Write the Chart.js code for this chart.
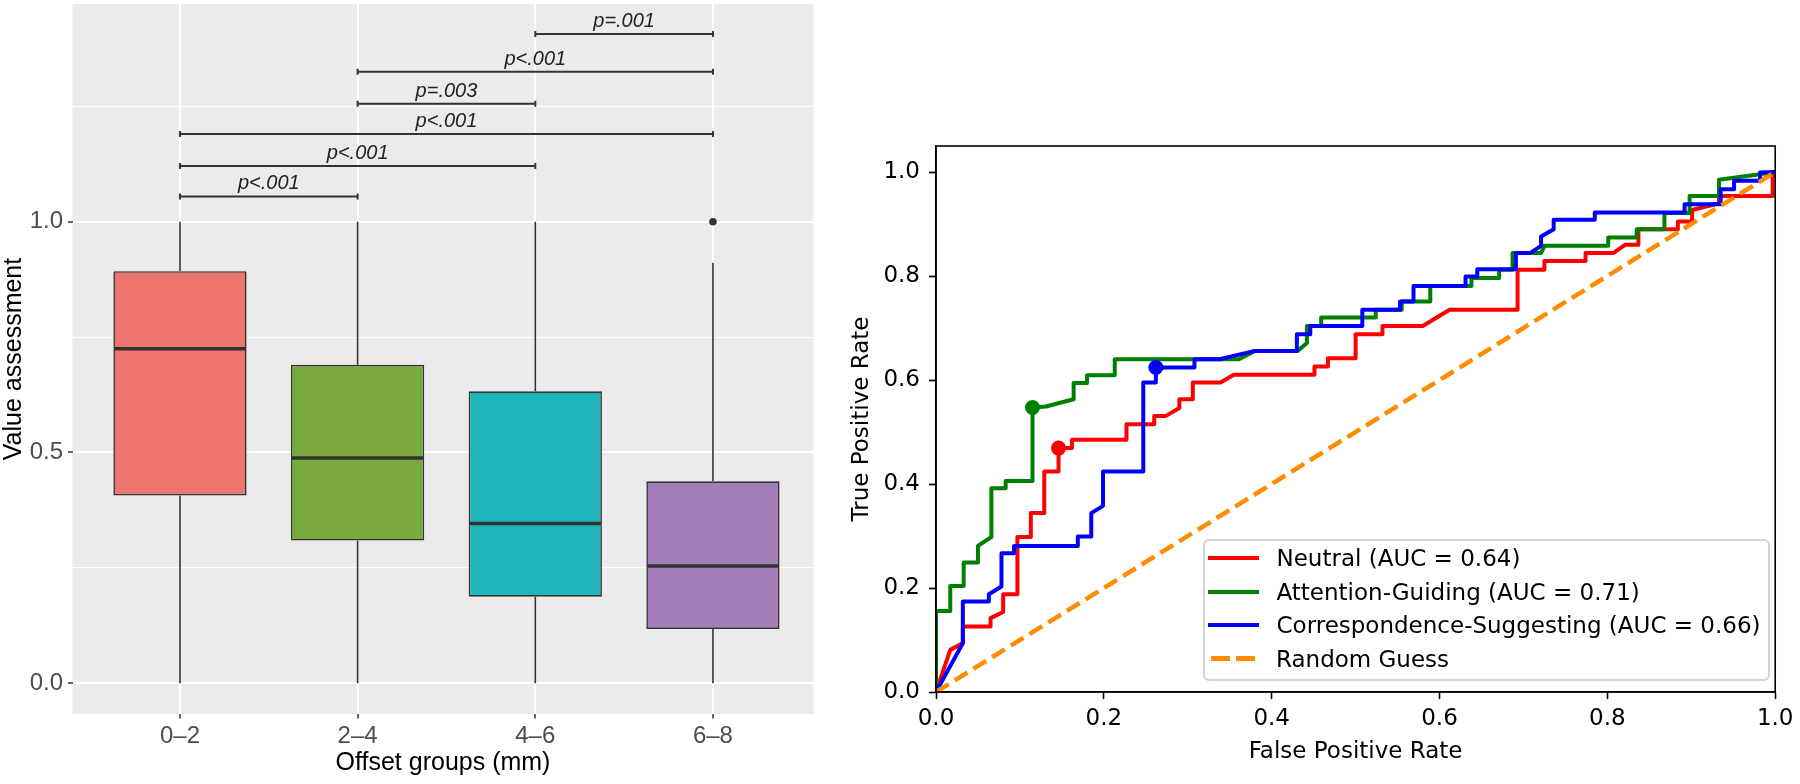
<!DOCTYPE html>
<html>
<head>
<meta charset="utf-8">
<title>Value assessment by offset group / ROC curves</title>
<script src="https://cdn.jsdelivr.net/npm/chart.js@4.4.1/dist/chart.umd.min.js"></script>
<style>
  body { margin: 0; background: #fff; width: 1800px; height: 784px; position: relative; overflow: hidden; }
  #box_wrap { position: absolute; left: 0; top: 0; width: 830px; height: 784px; }
  #roc_wrap { position: absolute; left: 830px; top: 0; width: 970px; height: 784px; }
  #roc_legend {
    position: absolute; left: 1203px; top: 539px; width: 567px; height: 142px;
    box-sizing: border-box; border: 2px solid #d4d4d4; border-radius: 6px;
    background: rgba(255, 255, 255, 0.8);
    font-family: "DejaVu Sans", sans-serif; font-size: 23px; color: #000;
  }
  #roc_legend ul { list-style: none; margin: 0; padding: 0; }
  #roc_legend li { display: flex; align-items: center; height: 33.7px; white-space: nowrap; }
</style>
</head>
<body>
<div id="box_wrap"><canvas id="offset_boxplot" width="830" height="784"></canvas></div>
<div id="roc_wrap"><canvas id="roc_chart" width="970" height="784"></canvas></div>
<div id="roc_legend"></div>
<script>
// ---- left panel: boxplot ----
const groups = ['0–2', '2–4', '4–6', '6–8'];
const boxLow = [0, 0, 0, 0];
const boxQ1 = [0.407, 0.309, 0.1875, 0.1175];
const boxMedian = [0.725, 0.488, 0.346, 0.254];
const boxQ3 = [0.893, 0.690, 0.6325, 0.4375];
const boxHigh = [1.0, 1.0, 1.0, 0.911];
const boxColors = ['#ED756D', '#7AA93F', '#1EB4B9', '#A47EB8'];
const outlierGroups = ['6–8'];
const outlierValues = [1.0];

const bracketFrom = ['0–2', '0–2', '0–2', '2–4', '2–4', '4–6'];
const bracketTo = ['2–4', '4–6', '6–8', '4–6', '6–8', '6–8'];
const bracketY = [1.055, 1.121, 1.190, 1.256, 1.325, 1.407];
const bracketLabels = ['p<.001', 'p<.001', 'p<.001', 'p=.003', 'p<.001', 'p=.001'];

const yGridValues = [0, 0.25, 0.5, 0.75, 1.0, 1.25];
const yTickValues = [0, 0.5, 1.0];
const yTickLabels = ['0.0', '0.5', '1.0'];

// ---- right panel: ROC curves ----
const rocLabels = [
  'Neutral (AUC = 0.64)',
  'Attention-Guiding (AUC = 0.71)',
  'Correspondence-Suggesting (AUC = 0.66)',
  'Random Guess'
];
const neutralRoc = [
  [0, 0], [0.017, 0.081], [0.032, 0.094], [0.032, 0.126], [0.065, 0.126], [0.065, 0.142],
  [0.080, 0.154], [0.080, 0.188], [0.097, 0.188], [0.097, 0.298], [0.113, 0.298], [0.113, 0.344],
  [0.129, 0.344], [0.129, 0.424], [0.146, 0.424], [0.146, 0.469], [0.162, 0.469], [0.162, 0.485],
  [0.227, 0.485], [0.227, 0.515], [0.260, 0.515], [0.260, 0.531], [0.274, 0.531], [0.290, 0.546],
  [0.290, 0.563], [0.306, 0.563], [0.306, 0.595], [0.339, 0.595], [0.355, 0.610], [0.451, 0.610],
  [0.451, 0.626], [0.467, 0.626], [0.467, 0.642], [0.500, 0.642], [0.500, 0.688], [0.532, 0.688],
  [0.532, 0.704], [0.580, 0.704], [0.612, 0.735], [0.693, 0.735], [0.693, 0.812], [0.725, 0.812],
  [0.725, 0.829], [0.774, 0.829], [0.774, 0.844], [0.807, 0.844], [0.821, 0.860], [0.837, 0.860],
  [0.837, 0.890], [0.884, 0.890], [0.884, 0.905], [0.901, 0.905], [0.901, 0.927], [0.933, 0.940],
  [0.933, 0.954], [0.997, 0.954], [0.997, 1.0]
];
const attentionRoc = [
  [0, 0], [0, 0.156], [0.017, 0.156], [0.017, 0.204], [0.033, 0.204], [0.033, 0.249],
  [0.050, 0.249], [0.050, 0.281], [0.066, 0.298], [0.066, 0.392], [0.083, 0.392], [0.083, 0.406],
  [0.115, 0.406], [0.115, 0.547], [0.131, 0.549], [0.164, 0.563], [0.164, 0.594], [0.180, 0.594],
  [0.180, 0.609], [0.213, 0.609], [0.213, 0.640], [0.361, 0.640], [0.380, 0.656], [0.431, 0.656],
  [0.442, 0.671], [0.442, 0.704], [0.459, 0.704], [0.459, 0.720], [0.524, 0.720], [0.524, 0.735],
  [0.555, 0.735], [0.555, 0.751], [0.589, 0.751], [0.589, 0.781], [0.638, 0.781], [0.638, 0.796],
  [0.671, 0.796], [0.671, 0.812], [0.687, 0.812], [0.687, 0.844], [0.721, 0.844], [0.725, 0.858],
  [0.801, 0.858], [0.801, 0.874], [0.835, 0.874], [0.835, 0.890], [0.868, 0.890], [0.868, 0.921],
  [0.898, 0.921], [0.898, 0.954], [0.933, 0.954], [0.933, 0.985], [0.984, 0.996], [1.0, 1.0]
];
const correspondenceRoc = [
  [0, 0], [0.032, 0.094], [0.032, 0.174], [0.063, 0.174], [0.063, 0.188], [0.078, 0.203],
  [0.078, 0.267], [0.093, 0.267], [0.093, 0.281], [0.169, 0.281], [0.169, 0.299], [0.185, 0.299],
  [0.185, 0.344], [0.199, 0.358], [0.199, 0.424], [0.247, 0.424], [0.247, 0.595], [0.262, 0.595],
  [0.262, 0.624], [0.308, 0.624], [0.308, 0.640], [0.338, 0.640], [0.380, 0.656], [0.430, 0.656],
  [0.430, 0.688], [0.446, 0.688], [0.446, 0.704], [0.508, 0.704], [0.508, 0.735], [0.553, 0.735],
  [0.553, 0.751], [0.569, 0.751], [0.569, 0.781], [0.631, 0.781], [0.631, 0.799], [0.645, 0.799],
  [0.645, 0.813], [0.691, 0.813], [0.691, 0.844], [0.708, 0.844], [0.721, 0.858], [0.721, 0.876],
  [0.736, 0.890], [0.736, 0.908], [0.785, 0.908], [0.785, 0.922], [0.892, 0.922], [0.892, 0.938],
  [0.935, 0.938], [0.935, 0.967], [0.951, 0.967], [0.951, 0.983], [0.982, 0.983], [0.982, 0.999],
  [1.0, 1.0]
];
const randomRoc = [[0, 0], [1, 1]];
const rocMarkers = [[0.146, 0.469], [0.115, 0.547], [0.262, 0.624]];
const rocColors = ['#ff0000', '#008000', '#0000ff', '#ff8c00'];
const rocTicks = [0, 0.2, 0.4, 0.6, 0.8, 1.0];

const GG_FONT = '"Liberation Sans", Arial, sans-serif';
const MPL_FONT = '"DejaVu Sans", sans-serif';

Chart.defaults.animation = false;
Chart.defaults.plugins.legend.display = false;
Chart.defaults.plugins.tooltip.enabled = false;

const isMajorY = (v) => yTickValues.some(t => Math.abs(t - v) < 1e-9);

const boxExtras = {
  id: 'boxExtras',
  beforeDraw(chart) {
    const { ctx, chartArea: a } = chart;
    ctx.save();
    ctx.fillStyle = '#ebebeb';
    ctx.fillRect(a.left, a.top, a.right - a.left, a.bottom - a.top);
    ctx.restore();
  },
  beforeDatasetsDraw(chart) {
    const { ctx, scales: { x, y } } = chart;
    ctx.save();
    ctx.strokeStyle = '#333333';
    ctx.lineWidth = 1.6;
    groups.forEach((g, i) => {
      const px = x.getPixelForValue(i + 1);
      ctx.beginPath();
      ctx.moveTo(px, y.getPixelForValue(boxHigh[i]));
      ctx.lineTo(px, y.getPixelForValue(boxQ3[i]));
      ctx.moveTo(px, y.getPixelForValue(boxQ1[i]));
      ctx.lineTo(px, y.getPixelForValue(boxLow[i]));
      ctx.stroke();
    });
    ctx.restore();
  },
  afterDatasetsDraw(chart) {
    const { ctx, scales: { x, y } } = chart;
    const bars = chart.getDatasetMeta(0).data;
    ctx.save();
    // medians
    ctx.strokeStyle = '#333333';
    ctx.lineWidth = 3.5;
    bars.forEach((bar, i) => {
      const py = y.getPixelForValue(boxMedian[i]);
      ctx.beginPath();
      ctx.moveTo(bar.x - bar.width / 2 + 1, py);
      ctx.lineTo(bar.x + bar.width / 2 - 1, py);
      ctx.stroke();
    });
    // significance brackets
    ctx.lineWidth = 2;
    ctx.fillStyle = '#222222';
    ctx.font = 'italic 20px ' + GG_FONT;
    ctx.textAlign = 'center';
    ctx.textBaseline = 'alphabetic';
    bracketY.forEach((v, k) => {
      const x1 = x.getPixelForValue(groups.indexOf(bracketFrom[k]) + 1);
      const x2 = x.getPixelForValue(groups.indexOf(bracketTo[k]) + 1);
      const py = y.getPixelForValue(v);
      ctx.beginPath();
      ctx.moveTo(x1, py); ctx.lineTo(x2, py);
      ctx.moveTo(x1, py - 3); ctx.lineTo(x1, py + 3);
      ctx.moveTo(x2, py - 3); ctx.lineTo(x2, py + 3);
      ctx.stroke();
      ctx.fillText(bracketLabels[k], (x1 + x2) / 2, py - 7);
    });
    ctx.restore();
  }
};

new Chart(document.getElementById('offset_boxplot').getContext('2d'), {
  type: 'bar',
  data: {
    datasets: [{
      label: 'Value assessment',
      data: groups.map((g, i) => ({ x: i + 1, y: [boxQ1[i], boxQ3[i]] })),
      backgroundColor: boxColors,
      borderColor: '#333333',
      borderWidth: 1.6,
      borderSkipped: false,
      barPercentage: 0.75,
      categoryPercentage: 1.0,
      order: 1
    }, {
      type: 'scatter',
      label: 'Outliers',
      data: outlierGroups.map((g, i) => ({ x: groups.indexOf(g) + 1, y: outlierValues[i] })),
      backgroundColor: '#333333',
      borderWidth: 0,
      pointRadius: 3.8,
      order: 0
    }]
  },
  options: {
    responsive: false,
    devicePixelRatio: 1,
    layout: { padding: { left: 0, right: 16.5, top: 0, bottom: 0 } },
    scales: {
      x: {
        type: 'linear', min: 0.395, max: 4.566, offset: false,
        afterBuildTicks: (scale) => { scale.ticks = groups.map((g, i) => ({ value: i + 1 })); },
        afterFit: (scale) => { scale.height = 70; },
        grid: { color: '#ffffff', lineWidth: 2, offset: false, drawTicks: true, tickLength: 4.5, tickColor: '#333333', tickWidth: 1.5 },
        border: { display: false },
        ticks: {
          callback: (v) => groups[Math.round(v) - 1],
          color: '#4d4d4d', font: { family: GG_FONT, size: 24 }, padding: 3.5,
          maxRotation: 0, autoSkip: false
        },
        title: {
          display: true, text: 'Offset groups (mm)', color: '#000000',
          font: { family: GG_FONT, size: 25 }, padding: { top: 0, bottom: 6 }
        }
      },
      y: {
        type: 'linear', min: -0.0668, max: 1.472,
        afterBuildTicks: (scale) => { scale.ticks = yGridValues.map(v => ({ value: v })); },
        afterFit: (scale) => { scale.width = 72.5; scale.paddingTop = 0; scale.paddingBottom = 0; },
        grid: {
          color: '#ffffff',
          lineWidth: (c) => (c.tick && isMajorY(c.tick.value) ? 2 : 1),
          drawTicks: true, tickLength: 4.5, tickWidth: 1.5,
          tickColor: (c) => (c.tick && isMajorY(c.tick.value) ? '#333333' : 'rgba(0,0,0,0)')
        },
        border: { display: false },
        ticks: {
          callback: (v) => { const k = yTickValues.findIndex(t => Math.abs(t - v) < 1e-9); return k < 0 ? '' : yTickLabels[k]; },
          color: '#4d4d4d', font: { family: GG_FONT, size: 24 }, padding: 5
        },
        title: {
          display: true, text: 'Value assessment', color: '#000000',
          font: { family: GG_FONT, size: 25, lineHeight: 1 }, padding: { top: 1.5, bottom: 0 }
        }
      }
    }
  },
  plugins: [boxExtras]
});

// ---- ROC chart ----
const rocFrame = {
  id: 'rocFrame',
  afterDatasetsDraw(chart) {
    const { ctx, chartArea: a } = chart;
    ctx.save();
    ctx.strokeStyle = '#000000';
    ctx.lineWidth = 1.6;
    ctx.strokeRect(a.left, a.top, a.right - a.left, a.bottom - a.top);
    ctx.restore();
  }
};

const toXY = (pairs) => pairs.map(p => ({ x: p[0], y: p[1] }));
const rocSeries = [neutralRoc, attentionRoc, correspondenceRoc];

const rocDatasets = rocSeries.map((s, i) => ({
  type: 'line',
  label: rocLabels[i],
  data: toXY(s),
  borderColor: rocColors[i],
  backgroundColor: rocColors[i],
  borderWidth: 4,
  borderJoinStyle: 'round',
  pointRadius: 0,
  fill: false,
  tension: 0,
  order: 4 - i
}));
rocDatasets.push({
  type: 'line',
  label: rocLabels[3],
  data: toXY(randomRoc),
  borderColor: rocColors[3],
  borderWidth: 4.5,
  borderDash: [15, 7],
  pointRadius: 0,
  fill: false,
  order: 1
});
rocMarkers.forEach((m, i) => {
  rocDatasets.push({
    type: 'scatter',
    label: rocLabels[i] + ' cut-off',
    data: [{ x: m[0], y: m[1] }],
    backgroundColor: rocColors[i],
    borderWidth: 0,
    pointRadius: 7.5,
    order: 0
  });
});

new Chart(document.getElementById('roc_chart').getContext('2d'), {
  type: 'line',
  data: { datasets: rocDatasets },
  options: {
    responsive: false,
    devicePixelRatio: 1,
    layout: { padding: { left: 0, right: 16.5, top: 146, bottom: 0 } },
    scales: {
      x: {
        type: 'linear', min: 0, max: 1,
        afterBuildTicks: (scale) => { scale.ticks = rocTicks.map(v => ({ value: v })); },
        afterFit: (scale) => { scale.height = 92; },
        grid: { drawOnChartArea: false, drawTicks: true, tickLength: 7, color: '#000000', tickWidth: 1.6 },
        border: { display: true, color: '#000000', width: 1.6 },
        ticks: { callback: (v) => v.toFixed(1), color: '#000000', font: { family: MPL_FONT, size: 23 }, padding: 6.5, maxRotation: 0, autoSkip: false },
        title: { display: true, text: 'False Positive Rate', color: '#000000', font: { family: MPL_FONT, size: 23 }, padding: { top: 0, bottom: 18.5 } }
      },
      y: {
        type: 'linear', min: 0, max: 1.05,
        afterBuildTicks: (scale) => { scale.ticks = rocTicks.map(v => ({ value: v })); },
        afterFit: (scale) => { scale.width = 106; },
        grid: { drawOnChartArea: false, drawTicks: true, tickLength: 7, color: '#000000', tickWidth: 1.6 },
        border: { display: true, color: '#000000', width: 1.6 },
        ticks: { callback: (v) => v.toFixed(1), color: '#000000', font: { family: MPL_FONT, size: 23 }, padding: 9, autoSkip: false },
        title: { display: true, text: 'True Positive Rate', color: '#000000', font: { family: MPL_FONT, size: 23 }, padding: { top: 18, bottom: 0 } }
      }
    }
  },
  plugins: [rocFrame]
});

// HTML legend, drawn over the lower right of the ROC axes
const legendContainer = document.getElementById('roc_legend');
const legendItems = rocLabels.map((label, i) => {
  const handle = i === 3
    ? `<span style="display:inline-block;width:44px;height:5px;margin:0 21px 0 6px;background:repeating-linear-gradient(to right, ${rocColors[i]} 0 19px, transparent 19px 25px);"></span>`
    : `<span style="display:inline-block;width:51px;height:4px;margin:0 17.5px 0 3px;background:${rocColors[i]};"></span>`;
  return `<li>${handle}<span>${label}</span></li>`;
});
legendContainer.innerHTML = `<ul>${legendItems.join('')}</ul>`;
</script>
</body>
</html>
